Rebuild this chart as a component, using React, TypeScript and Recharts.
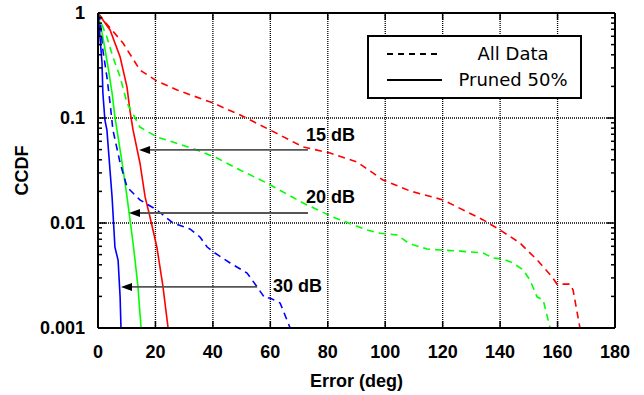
import React from 'react';
import { LineChart, Line, XAxis, YAxis, ReferenceLine, ReferenceDot } from 'recharts';

// ---- data (x = error in deg, y = CCDF) ----
const all15: [number, number][] = [
  [0, 1], [2.8, 0.8], [8.7, 0.518], [14.6, 0.286], [20.5, 0.225], [27.5, 0.185], [40, 0.139],
  [49.5, 0.107], [59.9, 0.0769], [71.4, 0.053], [80.8, 0.0464], [90.2, 0.0381], [99.2, 0.0257],
  [108.6, 0.0202], [120.1, 0.0166], [134.1, 0.0107], [140, 0.00857], [146.9, 0.00645],
  [152.9, 0.00444], [158.1, 0.00306], [159.8, 0.00262], [164.3, 0.00262], [165.4, 0.0023], [167.8, 0.001],
];
const pruned15: [number, number][] = [
  [0, 1], [4.2, 0.689], [7.7, 0.381], [10.1, 0.197], [11.1, 0.119], [12.2, 0.0769], [14.6, 0.0373],
  [16.4, 0.0177], [18.1, 0.0114], [20.5, 0.0059], [22.6, 0.0025], [24.4, 0.001],
];
const all20: [number, number][] = [
  [0, 1], [0.7, 0.857], [3.1, 0.59], [5.2, 0.381], [7.7, 0.246], [10.1, 0.139], [14.6, 0.082],
  [20.5, 0.0659], [24, 0.0617], [34.5, 0.0496], [41.4, 0.0416], [49.4, 0.032], [58.8, 0.024],
  [71.4, 0.0155], [81.8, 0.0114], [93.7, 0.00857], [98.2, 0.008], [104.1, 0.0077], [107.6, 0.0066],
  [109.7, 0.0062], [114.6, 0.00565], [119.1, 0.00553], [126, 0.0054], [134.1, 0.00518],
  [137.5, 0.00464], [141, 0.00454], [144.5, 0.00416], [148, 0.00357], [150.4, 0.00286],
  [152.9, 0.00197], [155, 0.00185], [157.4, 0.001],
];
const pruned20: [number, number][] = [
  [0, 1], [1.7, 0.59], [3.5, 0.306], [4.9, 0.173], [5.9, 0.102], [6.6, 0.0769], [8.4, 0.0373],
  [10.1, 0.0177], [12.2, 0.00645], [12.9, 0.0044], [13.9, 0.0025], [15, 0.001],
];
const all30: [number, number][] = [
  [0, 1], [0.7, 0.857], [1.7, 0.444], [3.1, 0.246], [4.2, 0.139], [5.2, 0.0769], [7.7, 0.0373],
  [10.1, 0.022], [14.6, 0.0166], [20.5, 0.0133], [26.1, 0.01], [32, 0.00877], [35.5, 0.00736],
  [38, 0.0059], [40.7, 0.00518], [46, 0.00416], [51.9, 0.00334], [55.4, 0.00246], [58.1, 0.00193],
  [59.9, 0.00193], [63.4, 0.00173], [66.9, 0.001],
];
const pruned30: [number, number][] = [
  [0, 1], [0.7, 0.59], [1.4, 0.334], [1.7, 0.173], [2.4, 0.0957], [3.1, 0.0769], [4.9, 0.0177],
  [5.9, 0.0059], [7, 0.0044], [7.7, 0.00197], [8, 0.001],
];

const xTicks = [0, 20, 40, 60, 80, 100, 120, 140, 160, 180];
const xGrid = [20, 40, 60, 80, 100, 120, 140, 160];
const yMajor = [0.001, 0.01, 0.1, 1];
const yMajorLabels = ['0.001', '0.01', '0.1', '1'];
const yGrid = [0.01, 0.1];
const yMinor = [
  0.002, 0.003, 0.004, 0.005, 0.006, 0.007, 0.008, 0.009,
  0.02, 0.03, 0.04, 0.05, 0.06, 0.07, 0.08, 0.09,
  0.2, 0.3, 0.4, 0.5, 0.6, 0.7, 0.8, 0.9,
];
const yAllTicks = [...yMajor, ...yMinor].sort((a, b) => a - b);

// arrows: [fromX, toX, y]
const arrows: [number, number, number][] = [
  [73.1, 14.3, 0.0496],
  [73.1, 10.8, 0.01245],
  [55.4, 8.0, 0.00246],
];
const arrowLabels: [string, number, number][] = [
  ['15 dB', 72.4, 0.0689],
  ['20 dB', 72.4, 0.0177],
  ['30 dB', 60.9, 0.00251],
];

const legendItems: [string, string][] = [
  ['All Data', '6 5'],
  ['Pruned 50%', ''],
];

const series = [
  { key: 'all15', pts: all15, color: '#ff0000', dash: '7 5' },
  { key: 'pruned15', pts: pruned15, color: '#ff0000', dash: '' },
  { key: 'all20', pts: all20, color: '#00ff00', dash: '7 5' },
  { key: 'pruned20', pts: pruned20, color: '#00ff00', dash: '' },
  { key: 'all30', pts: all30, color: '#0000ff', dash: '7 5' },
  { key: 'pruned30', pts: pruned30, color: '#0000ff', dash: '' },
];

const toPts = (a: [number, number][]) => a.map(([x, y]) => ({ x, y }));

const tickFont = { fontFamily: '"Liberation Sans", Arial, sans-serif', fontWeight: 700, fontSize: 18 };

const isMajor = (v: number) => yMajor.some((m) => Math.abs(m - v) < 1e-12);

const LeftTick = (p: any) => {
  const v = p.payload.value;
  const major = isMajor(v);
  const idx = yMajor.findIndex((m) => Math.abs(m - v) < 1e-12);
  return (
    <g>
      <line x1={p.x} y1={p.y} x2={p.x + (major ? 8 : 4)} y2={p.y} stroke="#000" strokeWidth={1.5} />
      {major && (
        <text x={p.x - 13} y={p.y} dy={6} textAnchor="end" fill="#000" {...tickFont}>
          {yMajorLabels[idx]}
        </text>
      )}
    </g>
  );
};

const RightTick = (p: any) => {
  const v = p.payload.value;
  const major = isMajor(v);
  return <line x1={p.x} y1={p.y} x2={p.x - (major ? 8 : 4)} y2={p.y} stroke="#000" strokeWidth={1.5} />;
};

const BottomTick = (p: any) => (
  <g>
    <line x1={p.x} y1={p.y} x2={p.x} y2={p.y - 7} stroke="#000" strokeWidth={1.5} />
    <text x={p.x} y={p.y + 30} textAnchor="middle" fill="#000" {...tickFont}>
      {p.payload.value}
    </text>
  </g>
);

const TopTick = (p: any) => <line x1={p.x} y1={p.y} x2={p.x} y2={p.y + 7} stroke="#000" strokeWidth={1.5} />;

const ArrowShape = (p: any) => {
  const { x1, y1, x2, y2 } = p;
  const dir = x2 < x1 ? 1 : -1;
  const len = 11;
  const hw = 4;
  return (
    <g>
      <line x1={x1} y1={y1} x2={x2 + dir * len} y2={y2} stroke="#555" strokeWidth={1.8} />
      <polygon points={`${x2},${y2} ${x2 + dir * len},${y2 - hw} ${x2 + dir * len},${y2 + hw}`} fill="#000" />
    </g>
  );
};

export default function App() {
  return (
    <div style={{ position: 'absolute', left: 0, top: 0, width: 644, height: 395, background: '#fff' }}>
      <LineChart width={644} height={395} margin={{ top: 12, right: 28, bottom: 27, left: 38 }}>
        <XAxis
          xAxisId="b"
          type="number"
          dataKey="x"
          domain={[0, 180]}
          ticks={xTicks}
          interval={0}
          allowDataOverflow
          height={40}
          tickSize={0}
          tickMargin={0}
          tickLine={false}
          axisLine={{ stroke: '#000', strokeWidth: 2 }}
          tick={<BottomTick />}
          label={{
            content: (lp: any) => {
              const vb = lp.viewBox;
              return (
                <text x={vb.x + vb.width / 2} y={vb.y + 59} textAnchor="middle" fill="#000" {...tickFont}>
                  Error (deg)
                </text>
              );
            },
          }}
        />
        <XAxis
          xAxisId="t"
          orientation="top"
          type="number"
          dataKey="x"
          domain={[0, 180]}
          ticks={xTicks}
          interval={0}
          allowDataOverflow
          height={1}
          tickSize={0}
          tickMargin={0}
          tickLine={false}
          axisLine={{ stroke: '#000', strokeWidth: 2 }}
          tick={<TopTick />}
        />
        <YAxis
          yAxisId="l"
          scale="log"
          type="number"
          domain={[0.001, 1]}
          ticks={yAllTicks}
          interval={0}
          allowDataOverflow
          width={60}
          tickSize={0}
          tickMargin={0}
          tickLine={false}
          axisLine={{ stroke: '#000', strokeWidth: 2 }}
          tick={<LeftTick />}
          label={{
            content: (lp: any) => {
              const vb = lp.viewBox;
              const cx = vb.x - 16;
              const cy = vb.y + vb.height / 2;
              return (
                <text x={cx} y={cy} dy={6} textAnchor="middle" transform={`rotate(-90 ${cx} ${cy})`} fill="#000" {...tickFont}>
                  CCDF
                </text>
              );
            },
          }}
        />
        <YAxis
          yAxisId="r"
          orientation="right"
          scale="log"
          type="number"
          domain={[0.001, 1]}
          ticks={yAllTicks}
          interval={0}
          allowDataOverflow
          width={1}
          tickSize={0}
          tickMargin={0}
          tickLine={false}
          axisLine={{ stroke: '#000', strokeWidth: 2 }}
          tick={<RightTick />}
        />
        {xGrid.map((v) => (
          <ReferenceLine key={'gx' + v} xAxisId="b" yAxisId="l" x={v} stroke="#000" strokeWidth={1.3} strokeDasharray="1 1" />
        ))}
        {yGrid.map((v) => (
          <ReferenceLine key={'gy' + v} xAxisId="b" yAxisId="l" y={v} stroke="#000" strokeWidth={1.3} strokeDasharray="1 1" />
        ))}
        {series.map((s) => (
          <Line
            key={s.key}
            xAxisId="b"
            yAxisId="l"
            data={toPts(s.pts)}
            dataKey="y"
            type="linear"
            stroke={s.color}
            strokeWidth={1.6}
            strokeDasharray={s.dash || undefined}
            dot={false}
            activeDot={false}
            isAnimationActive={false}
          />
        ))}
        {arrows.map(([fx, tx, y], i) => (
          <ReferenceLine
            key={'ar' + i}
            xAxisId="b"
            yAxisId="l"
            segment={[{ x: fx, y }, { x: tx, y }]}
            shape={<ArrowShape />}
          />
        ))}
        {arrowLabels.map(([t, x, y]) => (
          <ReferenceDot
            key={t}
            xAxisId="b"
            yAxisId="l"
            x={x}
            y={y}
            r={1}
            shape={(p: any) => (
              <text x={p.cx} y={p.cy} dy={6} textAnchor="start" fill="#000" {...tickFont}>
                {t}
              </text>
            )}
          />
        ))}
      </LineChart>
      <svg width={216} height={65} style={{ position: 'absolute', left: 367, top: 35 }}>
        <rect x={1} y={1} width={213} height={62} fill="#fff" stroke="#000" strokeWidth={2} />
        {legendItems.map(([label, dash], i) => (
          <g key={label}>
            <line x1={20} x2={75} y1={19 + i * 26} y2={19 + i * 26} stroke="#000" strokeWidth={2} strokeDasharray={dash || undefined} />
            <text x={146} y={19 + i * 26 + 6} textAnchor="middle" fill="#000" fontFamily='"DejaVu Sans", sans-serif' fontSize={18}>
              {label}
            </text>
          </g>
        ))}
      </svg>
    </div>
  );
}
